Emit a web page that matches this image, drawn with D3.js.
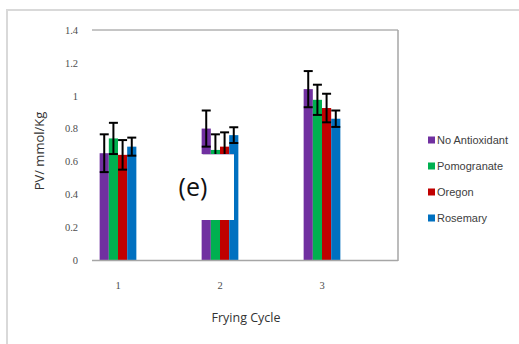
<!DOCTYPE html>
<html>
<head>
<meta charset="utf-8">
<script src="https://cdn.jsdelivr.net/npm/d3@7"></script>
<style>
  html, body { margin: 0; padding: 0; background: #fff; }
  svg { display: block; }
</style>
</head>
<body>
<svg id="chart" width="519" height="344"></svg>
<script>
// Peroxide value per frying cycle, by antioxidant treatment
const cycles = ["1", "2", "3"];
const series = ["No Antioxidant", "Pomogranate", "Oregon", "Rosemary"];
const colors = ["#7030A0", "#00B050", "#C00000", "#0070C0"];
// mean PV (mmol/Kg), one array per treatment, indexed by cycle
const noAntioxidant = [0.65, 0.80, 1.04];
const pomogranate   = [0.74, 0.67, 0.975];
const oregon        = [0.64, 0.69, 0.925];
const rosemary      = [0.69, 0.76, 0.86];
// standard deviation for error bars
const sdNoAntioxidant = [0.115, 0.11, 0.11];
const sdPomogranate   = [0.095, 0.095, 0.092];
const sdOregon        = [0.09, 0.087, 0.087];
const sdRosemary      = [0.055, 0.048, 0.05];
const yTicks = [0, 0.2, 0.4, 0.6, 0.8, 1, 1.2, 1.4];

const means = [noAntioxidant, pomogranate, oregon, rosemary];
const sds = [sdNoAntioxidant, sdPomogranate, sdOregon, sdRosemary];

const svg = d3.select("#chart");

// outer chart frame
svg.append("rect")
  .attr("x", 7).attr("y", 10).attr("width", 530).attr("height", 360)
  .attr("fill", "none").attr("stroke", "#d9d9d9").attr("stroke-width", 2);

const plot = { left: 92, right: 398, top: 30, bottom: 260 };

const y = d3.scaleLinear().domain([0, 1.4]).range([plot.bottom, plot.top]);
const x = d3.scaleBand().domain(cycles)
  .range([67, 373]).paddingInner(0.64).paddingOuter(0.32);
const xs = d3.scaleBand().domain(series).range([0, x.bandwidth()]);

// top gridline and right border of plot area
svg.append("line")
  .attr("x1", plot.left).attr("x2", plot.right)
  .attr("y1", y(1.4)).attr("y2", y(1.4))
  .attr("stroke", "#8c8c8c").attr("stroke-width", 1);
svg.append("line")
  .attr("x1", plot.right).attr("x2", plot.right)
  .attr("y1", y(1.4)).attr("y2", plot.bottom + 1)
  .attr("stroke", "#a6a6a6").attr("stroke-width", 1.5);

// y axis labels
const yAxis = d3.axisLeft(y).tickValues(yTicks).tickSize(0).tickPadding(0)
  .tickFormat(d => d3.format("")(d));
const gy = svg.append("g").attr("transform", `translate(78,0)`).call(yAxis);
gy.select(".domain").remove();
gy.selectAll("text")
  .attr("font-family", "Liberation Serif, serif")
  .attr("font-size", 10.5)
  .attr("fill", "#4d4d4d");

// bars
const groups = svg.append("g").selectAll("g")
  .data(cycles)
  .join("g")
  .attr("transform", d => `translate(${x(d)},0)`);

groups.selectAll("rect")
  .data((c, i) => series.map((s, k) => ({ s, k, v: means[k][i], sd: sds[k][i] })))
  .join("rect")
  .attr("x", d => xs(d.s))
  .attr("width", xs.bandwidth())
  .attr("y", d => y(d.v))
  .attr("height", d => y(0) - y(d.v))
  .attr("fill", d => colors[d.k]);

// error bars
const eb = groups.selectAll("g.err")
  .data((c, i) => series.map((s, k) => ({ s, k, v: means[k][i], sd: sds[k][i] })))
  .join("g").attr("class", "err");
const cx = d => xs(d.s) + xs.bandwidth() / 2;
eb.append("line")
  .attr("x1", cx).attr("x2", cx)
  .attr("y1", d => y(d.v + d.sd)).attr("y2", d => y(d.v - d.sd))
  .attr("stroke", "#000").attr("stroke-width", 2);
eb.append("line")
  .attr("x1", d => cx(d) - 4.5).attr("x2", d => cx(d) + 4.5)
  .attr("y1", d => y(d.v + d.sd)).attr("y2", d => y(d.v + d.sd))
  .attr("stroke", "#000").attr("stroke-width", 2);
eb.append("line")
  .attr("x1", d => cx(d) - 4.5).attr("x2", d => cx(d) + 4.5)
  .attr("y1", d => y(d.v - d.sd)).attr("y2", d => y(d.v - d.sd))
  .attr("stroke", "#000").attr("stroke-width", 2);

// x axis line
svg.append("line")
  .attr("x1", plot.left).attr("x2", plot.right)
  .attr("y1", plot.bottom + 0.5).attr("y2", plot.bottom + 0.5)
  .attr("stroke", "#a6a6a6").attr("stroke-width", 1.5);

// x tick labels
const xAxis = d3.axisBottom(x).tickSize(0).tickPadding(0);
const gx = svg.append("g").attr("transform", `translate(0,${plot.bottom + 22})`).call(xAxis);
gx.select(".domain").remove();
gx.selectAll("text")
  .attr("font-family", "Liberation Serif, serif")
  .attr("font-size", 10.5)
  .attr("fill", "#4d4d4d");

// panel label box
svg.append("rect")
  .attr("x", 160).attr("y", 154).attr("width", 74).attr("height", 66)
  .attr("fill", "#fff");
svg.append("line")
  .attr("x1", x("2") + 1).attr("x2", 234)
  .attr("y1", 154.5).attr("y2", 154.5)
  .attr("stroke", "#c9bfd6").attr("stroke-width", 1);
svg.append("text")
  .attr("x", 193).attr("y", 196)
  .attr("text-anchor", "middle")
  .attr("font-family", "Open Sans, sans-serif")
  .attr("font-size", 25)
  .attr("fill", "#111")
  .text("(e)");

// axis titles
svg.append("text")
  .attr("transform", "translate(44,151) rotate(-90)")
  .attr("text-anchor", "middle")
  .attr("font-family", "Open Sans, sans-serif")
  .attr("font-size", 13)
  .attr("fill", "#333")
  .text("PV/ mmol/Kg");
svg.append("text")
  .attr("x", 246).attr("y", 322)
  .attr("text-anchor", "middle")
  .attr("font-family", "Open Sans, sans-serif")
  .attr("font-size", 12.5)
  .attr("fill", "#333")
  .text("Frying Cycle");

// legend
const legend = svg.append("g").selectAll("g")
  .data(series)
  .join("g")
  .attr("transform", (d, i) => `translate(428,${140 + i * 26})`);
legend.append("rect")
  .attr("x", 0).attr("y", -3.5).attr("width", 7).attr("height", 7)
  .attr("fill", (d, i) => colors[i]);
legend.append("text")
  .attr("x", 9).attr("y", 4)
  .attr("font-family", "Liberation Sans, Arial, sans-serif")
  .attr("font-size", 11)
  .attr("fill", "#404040")
  .text(d => d);
</script>
</body>
</html>
